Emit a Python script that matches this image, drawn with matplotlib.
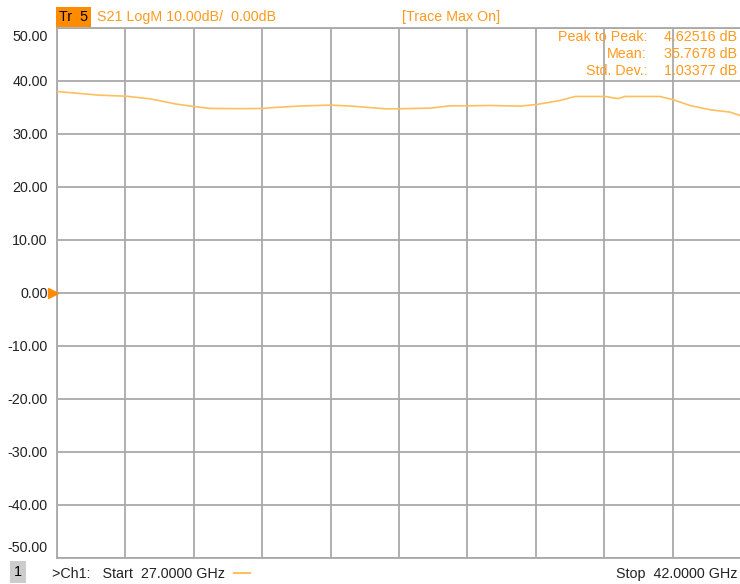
import matplotlib

matplotlib.use("Agg")
import matplotlib.pyplot as plt
from matplotlib.transforms import ScaledTranslation

plt.rcParams["font.family"] = ["Liberation Sans", "DejaVu Sans"]

# S21 magnitude trace, 27-42 GHz
freq_ghz = [27.0, 27.94, 28.51, 29.04, 29.59, 30.0, 30.36, 31.0, 31.52, 31.67,
            32.33, 33.0, 33.43, 34.19, 34.52, 35.18, 35.62, 36.01, 36.5, 37.15,
            37.53, 38.03, 38.36, 39.02, 39.3, 39.46, 40.22, 40.51, 40.88, 41.32,
            41.76, 42.0]
s21_db = [37.93, 37.24, 37.05, 36.56, 35.6, 35.1, 34.74, 34.7, 34.74, 34.87,
          35.2, 35.37, 35.2, 34.68, 34.68, 34.8, 35.24, 35.24, 35.3, 35.18,
          35.5, 36.24, 37.0, 37.0, 36.6, 37.0, 37.0, 36.4, 35.3, 34.5,
          34.05, 33.35]

y_ticks = [50, 40, 30, 20, 10, 0, -10, -20, -30, -40, -50]
stat_names = ["Peak to Peak:", "Mean:", "Std. Dev.:"]
stat_values = ["4.62516 dB", "35.7678 dB", "1.03377 dB"]

ORANGE = "#ff9a1f"
TRACE = "#ffbf5e"
GRID = "#a9a9a9"
FS = 10.3

W, H = 740, 584
fig = plt.figure(figsize=(W / 100, H / 100), dpi=100)
left, right, top, bottom = 57, 741, 27.5, 558
ax = fig.add_axes([left / W, 1 - bottom / H, (right - left) / W, (bottom - top) / H])

ax.plot(freq_ghz, s21_db, color=TRACE, lw=1.2, zorder=3)

ax.set_xlim(27, 42)
ax.set_ylim(-50, 50)
ax.set_xticks([27 + 1.5 * i for i in range(11)])
ax.set_xticklabels([])
ax.set_yticks(y_ticks)
# end labels are nudged inside the grid, drawn separately below
ax.set_yticklabels([f"{v:.2f}" if abs(v) < 50 else "" for v in y_ticks],
                   fontsize=FS, color="#222222")
ax.tick_params(length=0, pad=6.8)
ytrans = ax.get_yaxis_transform()
for v, dy in [(50, -9.5), (-50, 10)]:
    ax.text(-9.5 / 684, v, f"{v:.2f}", fontsize=FS, color="#222222", ha="right",
            va="center", transform=ytrans + ScaledTranslation(0, dy / 100, fig.dpi_scale_trans))
ax.grid(True, color=GRID, lw=1.3)
for sp in ax.spines.values():
    sp.set_color(GRID)
    sp.set_linewidth(1.3)

# reference level marker
ax.plot([27], [0], marker=">", color="#ff8c00", ms=7, clip_on=False,
        transform=ax.transData + ScaledTranslation(-4 / 100, 0, fig.dpi_scale_trans),
        zorder=5)

# header line
fig.text(59 / W, 1 - 17 / H, "Tr  5", fontsize=FS, color="black", va="center",
         ha="left", bbox=dict(boxstyle="square,pad=0.18", fc="#ff8c00", ec="none"))
fig.text(97 / W, 1 - 17 / H, "S21 LogM 10.00dB/  0.00dB", fontsize=FS,
         color=ORANGE, va="center", ha="left")
fig.text(402 / W, 1 - 17 / H, "[Trace Max On]", fontsize=FS,
         color=ORANGE, va="center", ha="left")

# trace statistics
for i, (name, val) in enumerate(zip(stat_names, stat_values)):
    y = 1 - (37 + 17 * i) / H
    fig.text(647 / W, y, name, fontsize=FS, color=ORANGE, ha="right", va="center")
    fig.text(737 / W, y, val, fontsize=FS, color=ORANGE, ha="right", va="center")

# footer line
fig.text(18 / W, 1 - 572 / H, "1", fontsize=FS, color="black", ha="center",
         va="center", bbox=dict(boxstyle="square,pad=0.25", fc="#cccccc", ec="none"))
fig.text(52 / W, 1 - 574 / H, ">Ch1:   Start  27.0000 GHz", fontsize=FS,
         color="#222222", ha="left", va="center")
fig.add_artist(plt.Line2D([234 / W, 250 / W], [1 - 573 / H, 1 - 573 / H],
                          color=TRACE, lw=1.5))
fig.text(738 / W, 1 - 574 / H, "Stop  42.0000 GHz", fontsize=FS,
         color="#222222", ha="right", va="center")

fig.savefig("out.png", dpi=100)
